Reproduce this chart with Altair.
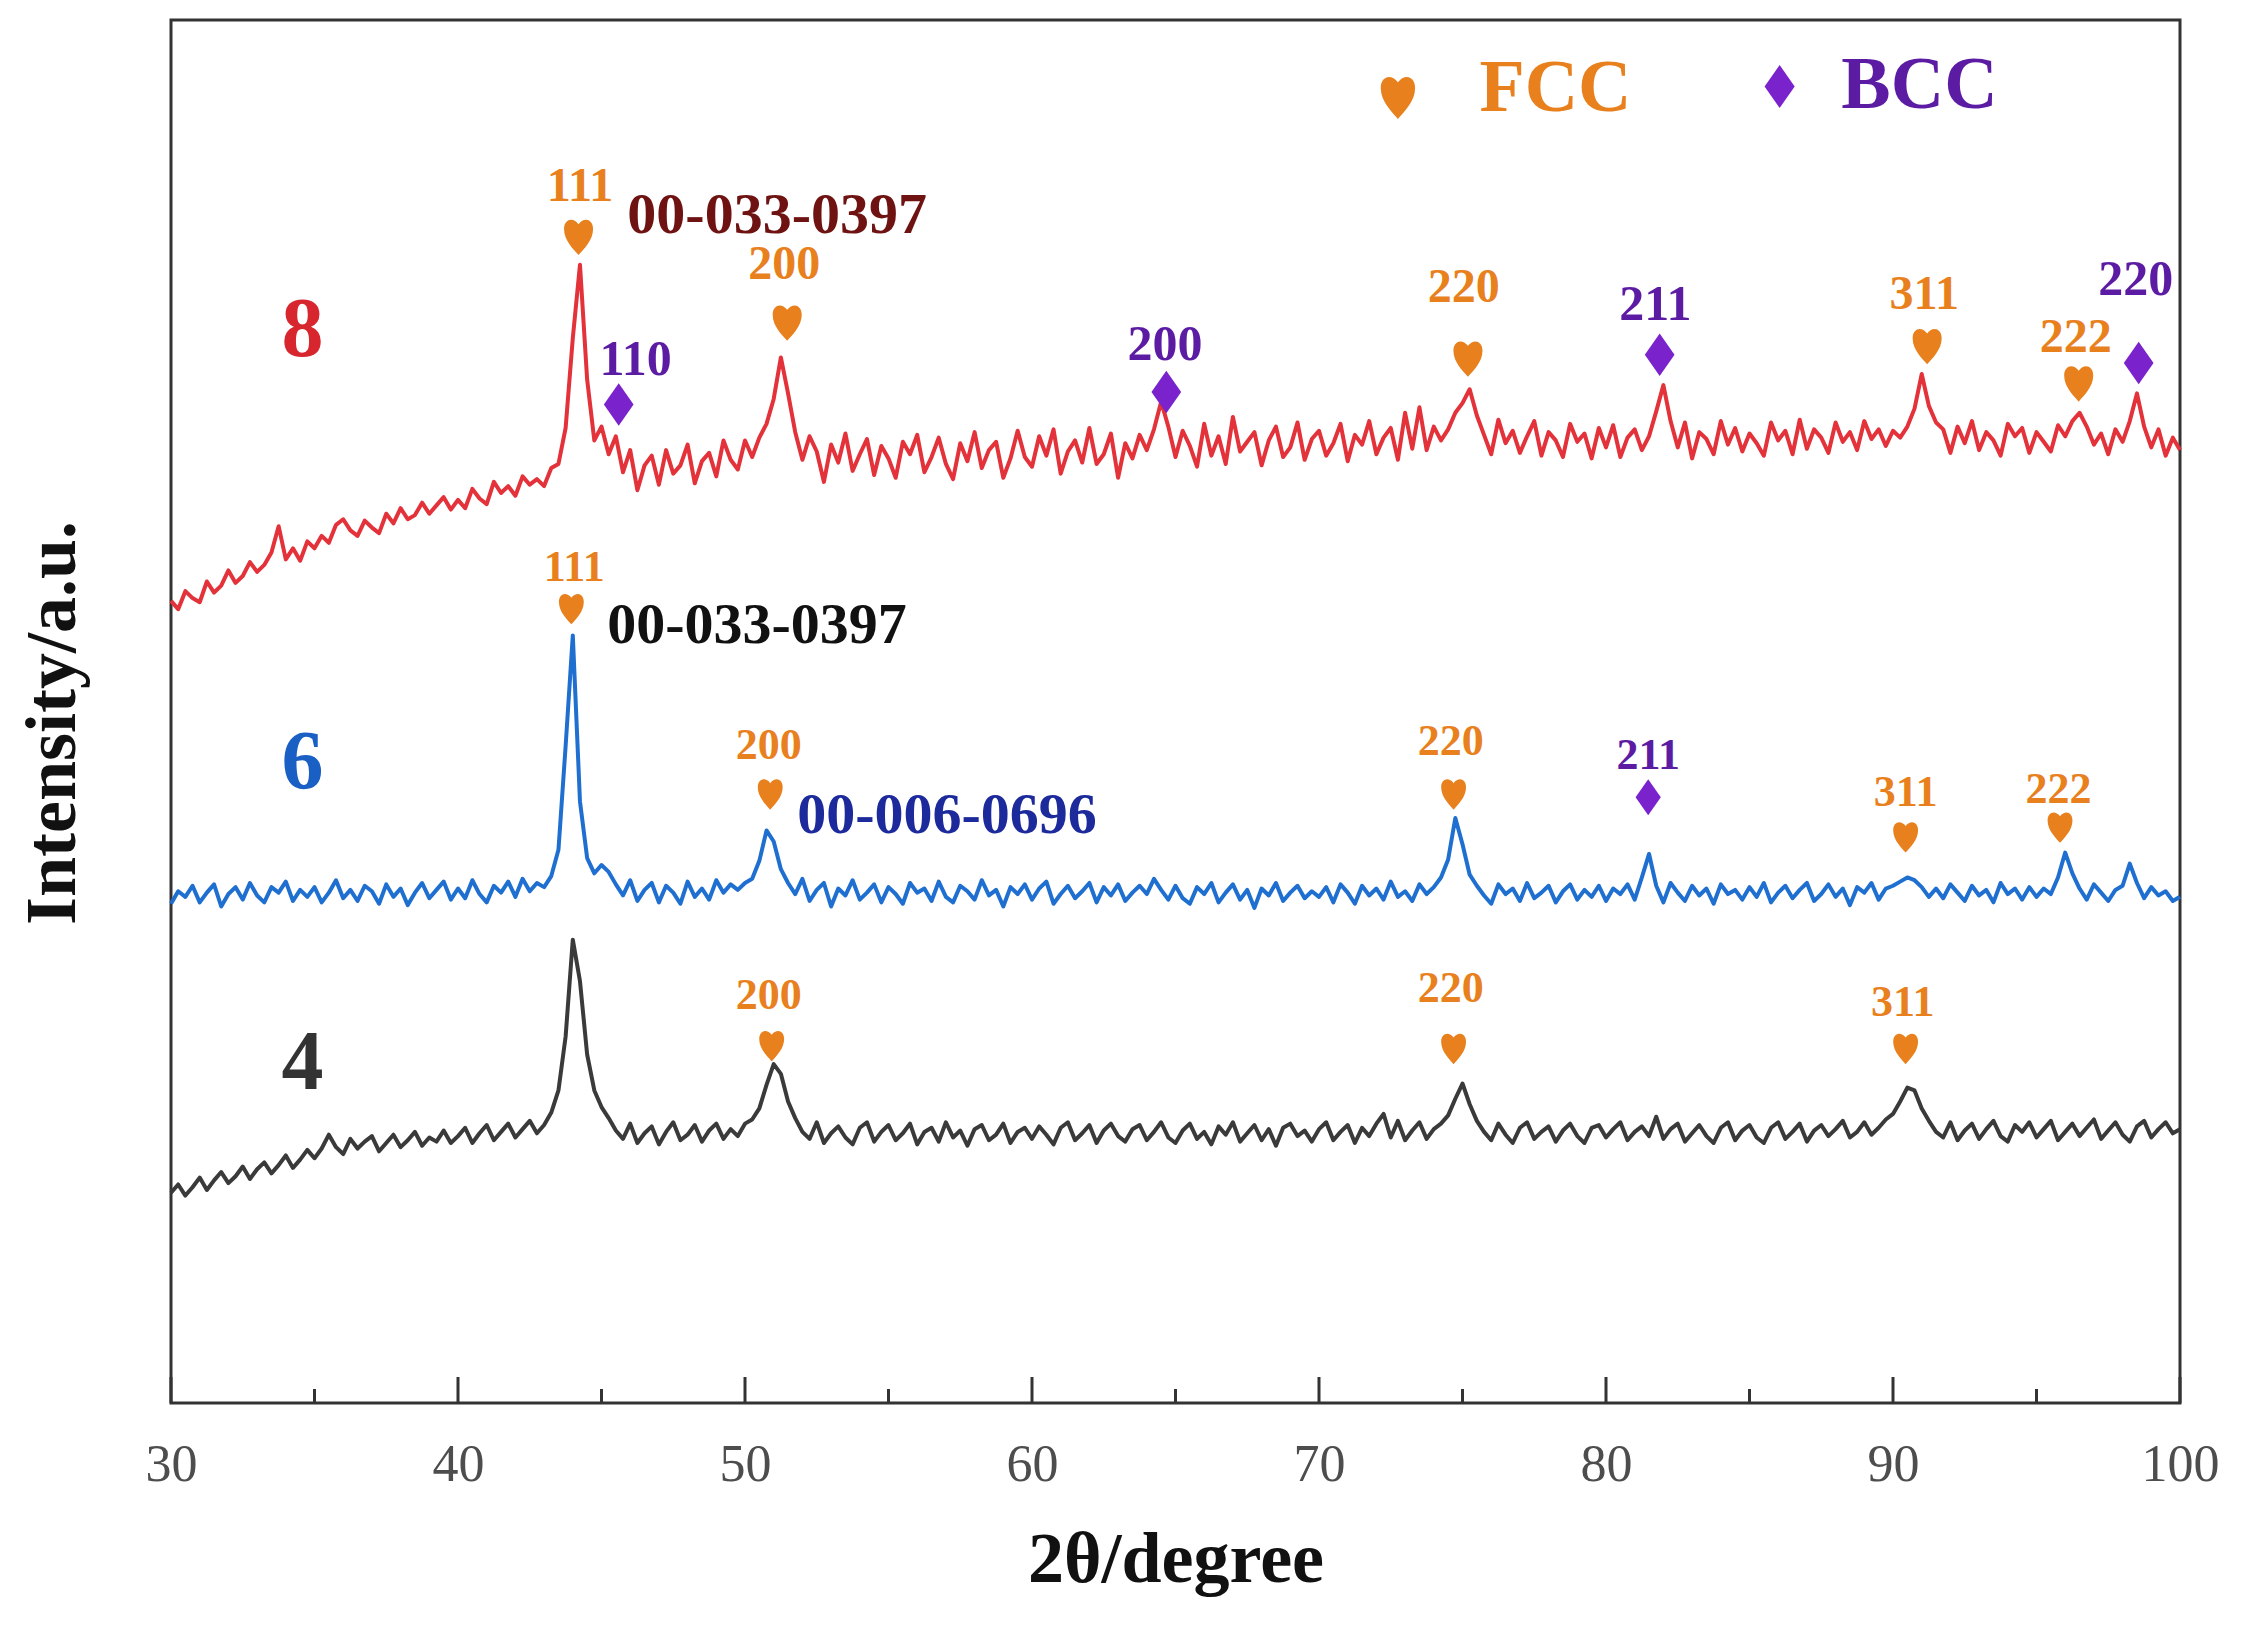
import pandas as pd
import altair as alt

# XRD scans, 2theta from 30 to 100 deg in 0.25 deg steps (intensity in % of plot height)
START, STEP = 30.0, 0.25

SCAN_8 = [
    58.0, 57.4, 58.7, 58.2, 57.9, 59.4, 58.6, 59.1, 60.2, 59.3, 59.8, 60.8, 60.1, 60.6, 61.5, 63.4, 61.0, 61.8, 60.9, 62.3,
    61.8, 62.7, 62.2, 63.5, 63.9, 63.1, 62.7, 63.8, 63.3, 62.9, 64.3, 63.6, 64.7, 63.9, 64.2, 65.1, 64.3, 64.9, 65.5, 64.6,
    65.3, 64.7, 66.1, 65.4, 65.0, 66.6, 65.8, 66.3, 65.6, 67.0, 66.4, 66.8, 66.3, 67.6, 67.9, 70.5, 77.0, 82.3, 74.0, 69.6,
    70.6, 68.6, 69.9, 67.3, 68.9, 66.0, 67.8, 68.5, 66.4, 68.9, 67.2, 67.8, 69.3, 66.5, 68.1, 68.7, 67.0, 69.6, 68.2, 67.5,
    69.6, 68.4, 69.8, 70.8, 72.6, 75.6, 73.0, 70.2, 68.2, 69.9, 68.8, 66.6, 69.3, 68.0, 70.1, 67.4, 68.6, 69.7, 67.1, 69.2,
    68.3, 66.9, 69.5, 68.6, 70.0, 67.3, 68.4, 69.8, 67.9, 66.8, 69.4, 68.1, 70.2, 67.6, 68.9, 69.5, 66.9, 68.3, 70.3, 68.4,
    67.7, 69.9, 68.5, 70.4, 67.2, 68.8, 69.6, 68.0, 70.5, 67.9, 68.6, 70.1, 66.9, 69.4, 68.3, 70.0, 68.9, 70.4, 72.4, 70.6,
    68.4, 70.3, 69.2, 67.7, 70.8, 68.5, 69.9, 67.9, 71.3, 68.8, 69.5, 70.2, 67.8, 69.6, 70.6, 68.4, 69.1, 70.9, 68.2, 69.7,
    70.3, 68.5, 69.4, 70.8, 68.1, 70.0, 69.3, 71.0, 68.6, 69.8, 70.5, 68.2, 71.6, 69.0, 72.0, 68.9, 70.6, 69.6, 70.4, 71.6,
    72.3, 73.3, 71.4, 70.0, 68.6, 71.1, 69.4, 70.3, 68.7, 69.9, 71.0, 68.5, 70.2, 69.6, 68.4, 70.8, 69.5, 70.1, 68.3, 70.5,
    69.1, 70.7, 68.4, 69.8, 70.4, 68.9, 69.9, 71.7, 73.6, 71.0, 69.1, 70.9, 68.3, 70.2, 69.7, 68.6, 71.0, 69.3, 70.5, 68.8,
    70.1, 69.4, 68.5, 70.9, 69.6, 70.3, 68.6, 71.1, 69.0, 70.4, 69.8, 68.7, 70.9, 69.5, 70.2, 68.9, 71.0, 69.7, 70.4, 69.2,
    70.3, 69.8, 70.6, 71.9, 74.4, 72.1, 70.9, 70.4, 68.7, 70.6, 69.4, 71.0, 68.9, 70.2, 69.6, 68.5, 70.8, 69.9, 70.5, 68.7,
    70.2, 69.5, 68.8, 70.7, 69.9, 71.0, 71.6, 70.6, 69.3, 70.1, 68.6, 70.4, 69.5, 71.0, 73.0, 70.6, 69.1, 70.4, 68.5, 69.8,
    68.9,
]

SCAN_6 = [
    36.1, 37.0, 36.6, 37.4, 36.2, 36.9, 37.5, 35.9, 36.8, 37.3, 36.4, 37.6, 36.7, 36.2, 37.3, 36.9, 37.7, 36.3, 37.1, 36.6,
    37.3, 36.2, 36.9, 37.8, 36.5, 37.1, 36.3, 37.4, 37.0, 36.1, 37.5, 36.6, 37.2, 36.0, 36.9, 37.6, 36.5, 37.1, 37.7, 36.4,
    37.2, 36.5, 37.8, 36.8, 36.2, 37.4, 36.9, 37.7, 36.6, 37.9, 37.0, 37.6, 37.3, 38.1, 40.0, 47.5, 55.5, 43.5, 39.4, 38.3,
    38.9, 38.4, 37.5, 36.7, 37.8, 36.3, 37.1, 37.6, 36.2, 37.4, 36.9, 36.1, 37.7, 36.6, 37.2, 36.4, 37.8, 36.9, 37.5, 37.1,
    37.6, 37.9, 39.2, 41.4, 40.6, 38.6, 37.6, 36.8, 37.9, 36.3, 37.1, 37.6, 35.9, 37.2, 36.7, 37.8, 36.4, 36.9, 37.5, 36.2,
    37.3, 36.8, 36.1, 37.6, 36.9, 37.2, 36.3, 37.7, 36.6, 36.2, 37.4, 37.0, 36.4, 37.8, 36.7, 37.1, 35.9, 37.3, 36.8, 37.5,
    36.4, 37.2, 37.7, 36.1, 36.8, 37.4, 36.5, 37.0, 37.6, 36.2, 37.3, 36.7, 37.5, 36.3, 36.9, 37.4, 36.8, 37.9, 37.1, 36.4,
    37.4, 36.5, 36.1, 37.3, 36.8, 37.6, 36.2, 36.9, 37.5, 36.4, 37.1, 35.8, 37.2, 36.7, 37.6, 36.3, 36.9, 37.4, 36.5, 37.0,
    36.6, 37.3, 36.2, 37.5, 36.9, 36.1, 37.4, 36.7, 37.2, 36.4, 37.7, 36.6, 37.0, 36.3, 37.5, 36.8, 37.3, 38.0, 39.3, 42.3,
    40.4, 38.2, 37.4, 36.7, 36.1, 37.5, 36.8, 37.2, 36.3, 37.6, 36.5, 36.9, 37.4, 36.2, 37.0, 37.5, 36.4, 37.1, 36.6, 37.4,
    36.3, 37.2, 36.8, 37.5, 36.4, 38.0, 39.7, 37.4, 36.2, 37.6, 36.9, 36.3, 37.4, 36.7, 37.2, 36.1, 37.5, 36.8, 37.1, 36.4,
    37.3, 36.6, 37.6, 36.2, 36.9, 37.4, 36.5, 37.1, 37.6, 36.3, 36.8, 37.5, 36.6, 37.2, 36.0, 37.3, 36.9, 37.6, 36.4, 37.2,
    37.4, 37.7, 38.0, 37.8, 37.3, 36.6, 37.2, 36.5, 37.5, 36.9, 36.3, 37.4, 36.7, 37.1, 36.2, 37.6, 36.8, 37.2, 36.4, 37.3,
    36.6, 37.2, 36.8, 38.0, 39.8, 38.3, 37.2, 36.4, 37.5, 36.9, 36.3, 37.1, 37.4, 39.0, 37.6, 36.5, 37.3, 36.7, 37.0, 36.3,
    36.6,
]

SCAN_4 = [
    15.2, 15.8, 15.0, 15.6, 16.3, 15.4, 16.1, 16.7, 15.9, 16.4, 17.1, 16.2, 16.9, 17.4, 16.6, 17.2, 17.9, 17.0, 17.6, 18.3,
    17.7, 18.4, 19.4, 18.5, 18.0, 19.1, 18.4, 18.9, 19.3, 18.2, 18.8, 19.4, 18.5, 19.0, 19.6, 18.6, 19.2, 18.9, 19.7, 18.8,
    19.3, 19.9, 18.8, 19.5, 20.1, 19.0, 19.6, 20.2, 19.2, 19.8, 20.4, 19.5, 20.1, 21.0, 22.6, 26.5, 33.5, 30.5, 25.2, 22.6,
    21.4, 20.6, 19.7, 19.1, 20.2, 18.8, 19.5, 20.0, 18.7, 19.6, 20.3, 19.0, 19.4, 20.1, 18.9, 19.7, 20.2, 19.1, 19.8, 19.3,
    20.2, 20.5, 21.3, 23.0, 24.5, 23.8, 21.8, 20.6, 19.6, 19.1, 20.3, 18.8, 19.5, 20.0, 19.2, 18.7, 19.9, 20.3, 18.9, 19.6,
    20.1, 19.0, 19.5, 20.2, 18.7, 19.6, 19.9, 18.9, 20.3, 19.2, 19.7, 18.6, 19.8, 20.1, 19.0, 19.4, 20.2, 18.8, 19.6, 19.9,
    19.1, 20.0, 19.4, 18.7, 19.9, 20.3, 19.0, 19.5, 20.1, 18.8, 19.7, 20.2, 19.3, 18.9, 19.8, 20.1, 19.0, 19.6, 20.3, 19.2,
    18.8, 19.7, 20.2, 19.1, 19.6, 18.7, 20.0, 19.4, 20.3, 18.9, 19.5, 20.1, 19.0, 19.8, 18.6, 19.9, 20.2, 19.3, 19.7, 18.9,
    19.8, 20.3, 19.0, 19.6, 20.1, 18.8, 19.9, 19.3, 20.2, 20.9, 19.2, 20.4, 19.0, 19.7, 20.3, 19.1, 19.8, 20.2, 20.8, 22.0,
    23.1, 21.6, 20.4, 19.6, 19.0, 20.2, 19.4, 18.8, 19.9, 20.3, 19.1, 19.6, 20.0, 18.9, 19.7, 20.2, 19.3, 18.8, 19.9, 20.1,
    19.2, 19.8, 20.3, 19.0, 19.6, 20.0, 19.3, 20.7, 19.1, 19.8, 20.2, 18.9, 19.5, 20.1, 19.3, 18.8, 19.9, 20.3, 19.0, 19.7,
    20.1, 19.2, 18.8, 19.9, 20.3, 19.1, 19.6, 20.2, 18.9, 19.7, 20.1, 19.3, 19.8, 20.4, 19.2, 19.6, 20.3, 19.4, 19.9, 20.5,
    20.9, 21.8, 22.8, 22.6, 21.3, 20.4, 19.6, 19.2, 20.3, 19.0, 19.7, 20.2, 19.1, 19.8, 20.4, 19.3, 18.9, 20.1, 19.6, 20.3,
    19.2, 19.8, 20.4, 19.0, 19.6, 20.2, 19.3, 19.9, 20.5, 19.1, 19.7, 20.3, 19.4, 18.9, 20.0, 20.4, 19.2, 19.8, 20.3, 19.5,
    19.8,
]

# peak markers (FCC hearts, BCC diamonds) and their hkl labels
FCC_8_X = [44.20, 51.47, 75.19, 91.19, 96.47]
FCC_8_Y = [84.4, 78.2, 75.6, 76.5, 73.8]
FCC_8_LABEL_X = [44.25, 51.37, 75.04, 91.09, 96.37]
FCC_8_LABEL_Y = [87.9, 82.3, 80.6, 80.1, 77.0]
FCC_8_LABELS = ['111', '200', '220', '311', '222']

BCC_8_X = [45.60, 64.68, 81.87, 98.56]
BCC_8_Y = [72.2, 73.1, 75.8, 75.2]
BCC_8_LABEL_X = [46.19, 64.63, 81.72, 98.46]
BCC_8_LABEL_Y = [75.4, 76.5, 79.4, 81.2]
BCC_8_LABELS = ['110', '200', '211', '220']

FCC_6_X = [43.95, 50.88, 74.69, 90.44, 95.82]
FCC_6_Y = [57.5, 44.1, 44.1, 41.0, 41.7]
FCC_6_LABEL_X = [44.05, 50.83, 74.59, 90.44, 95.77]
FCC_6_LABEL_Y = [60.4, 47.5, 47.8, 44.1, 44.3]
FCC_6_LABELS = ['111', '200', '220', '311', '222']

BCC_6_X = [81.47]
BCC_6_Y = [43.8]
BCC_6_LABEL_X = [81.47]
BCC_6_LABEL_Y = [46.8]
BCC_6_LABELS = ['211']

FCC_4_X = [50.93, 74.69, 90.44]
FCC_4_Y = [25.9, 25.7, 25.7]
FCC_4_LABEL_X = [50.83, 74.59, 90.34]
FCC_4_LABEL_Y = [29.4, 29.9, 28.9]
FCC_4_LABELS = ['200', '220', '311']

# PDF card numbers (left edges)
PDF_X = [45.90, 45.20, 51.82]
PDF_Y = [85.8, 56.2, 42.46]
PDF_TEXT = ['00-033-0397', '00-033-0397', '00-006-0696']

SAMPLES = ['8', '6', '4']
SAMPLE_X = [34.58, 34.58, 34.58]
SAMPLE_Y = [77.5, 46.2, 24.5]

LEGEND_MARK_X = [72.75, 86.05]
LEGEND_MARK_Y = [94.5, 95.2]
LEGEND_TEXT_X = [75.59, 88.20]
LEGEND_TEXT_Y = [95.0, 95.2]
LEGEND_TEXT = ['FCC', 'BCC']

MAJOR_TICKS = [30, 40, 50, 60, 70, 80, 90, 100]
MINOR_TICKS = [35, 45, 55, 65, 75, 85, 95]

SERIF = 'Liberation Serif'
ORANGE = '#e8801e'
PURPLE = '#7a22cc'
PURPLE_TEXT = '#5c1ba3'
W, H = 2009, 1383

# tall heart, tip pointing down
HEART = ('M 0 1 C -0.25 0.7 -0.75 0.25 -0.75 -0.35 C -0.75 -0.85 -0.3 -1.0 0 -0.6 '
         'C 0.3 -1.0 0.75 -0.85 0.75 -0.35 C 0.75 0.25 0.25 0.7 0 1 Z')
DIAMOND = 'M 0 -1 L 0.7 0 L 0 1 L -0.7 0 Z'

x_scale = alt.Scale(domain=[30, 100], nice=False, zero=False)
y_scale = alt.Scale(domain=[0, 100], nice=False, zero=False)

x_axis = alt.Axis(values=MAJOR_TICKS, format='d', ticks=False, tickSize=0, domain=False, grid=False,
                  labelFont=SERIF, labelFontSize=52, labelColor='#4d4d4d', labelPadding=36,
                  labelFlush=False, title='2θ/degree', titleFont=SERIF, titleFontSize=72,
                  titleFontWeight='bold', titleColor='#111111', titlePadding=34)
y_axis = alt.Axis(labels=False, ticks=False, domain=False, grid=False,
                  title='Intensity/a.u.', titleFont=SERIF, titleFontSize=72,
                  titleFontWeight='bold', titleColor='#111111', titlePadding=82, titleY=H / 2 + 11)

X = alt.X('x:Q', scale=x_scale, axis=x_axis)
Y = alt.Y('y:Q', scale=y_scale, axis=y_axis)


def scan(values, name):
    return pd.DataFrame({'x': [START + STEP * i for i in range(len(values))],
                         'y': values, 'sample': name})


lines = pd.concat([scan(SCAN_4, '4'), scan(SCAN_6, '6'), scan(SCAN_8, '8')])

line_chart = alt.Chart(lines).mark_line(strokeWidth=4, strokeJoin='round').encode(
    x=X, y=Y,
    color=alt.Color('sample:N',
                    scale=alt.Scale(domain=['4', '6', '8'],
                                    range=['#3a3a3a', '#1f6fd0', '#e3323a']),
                    legend=None),
)


def ticks(values, length):
    return alt.Chart(pd.DataFrame({'x': values})).mark_rule(color='#333333', strokeWidth=3).encode(
        x=X, y=alt.value(H), y2=alt.value(H - length))


def markers(xs, ys, shape, size, color):
    df = pd.DataFrame({'x': xs, 'y': ys})
    return alt.Chart(df).mark_point(shape=shape, size=size, filled=True, fill=color,
                                    stroke=None, opacity=1).encode(x=X, y=Y)


def texts(xs, ys, labels, size, color, weight='bold', align='center'):
    df = pd.DataFrame({'x': xs, 'y': ys, 'label': labels})
    return alt.Chart(df).mark_text(font=SERIF, fontSize=size, fontWeight=weight, color=color,
                                   align=align, baseline='middle').encode(x=X, y=Y, text='label:N')


layers = [
    ticks(MAJOR_TICKS, 26),
    ticks(MINOR_TICKS, 14),
    line_chart,
    markers(FCC_8_X, FCC_8_Y, HEART, 1500, ORANGE),
    texts(FCC_8_LABEL_X, FCC_8_LABEL_Y, FCC_8_LABELS, 48, ORANGE),
    markers(BCC_8_X, BCC_8_Y, DIAMOND, 1800, PURPLE),
    texts(BCC_8_LABEL_X, BCC_8_LABEL_Y, BCC_8_LABELS, 50, PURPLE_TEXT),
    markers(FCC_6_X, FCC_6_Y, HEART, 1100, ORANGE),
    texts(FCC_6_LABEL_X, FCC_6_LABEL_Y, FCC_6_LABELS, 44, ORANGE),
    markers(BCC_6_X, BCC_6_Y, DIAMOND, 1300, PURPLE),
    texts(BCC_6_LABEL_X, BCC_6_LABEL_Y, BCC_6_LABELS, 44, PURPLE_TEXT),
    markers(FCC_4_X, FCC_4_Y, HEART, 1100, ORANGE),
    texts(FCC_4_LABEL_X, FCC_4_LABEL_Y, FCC_4_LABELS, 44, ORANGE),
    texts(PDF_X[:1], PDF_Y[:1], PDF_TEXT[:1], 58, '#6e1212', align='left'),
    texts(PDF_X[1:2], PDF_Y[1:2], PDF_TEXT[1:2], 58, '#111111', align='left'),
    texts(PDF_X[2:], PDF_Y[2:], PDF_TEXT[2:], 58, '#1c2a9c', align='left'),
    texts(SAMPLE_X[:1], SAMPLE_Y[:1], SAMPLES[:1], 84, '#d7262e'),
    texts(SAMPLE_X[1:2], SAMPLE_Y[1:2], SAMPLES[1:2], 84, '#1a5fc4'),
    texts(SAMPLE_X[2:], SAMPLE_Y[2:], SAMPLES[2:], 84, '#333333'),
    markers(LEGEND_MARK_X[:1], LEGEND_MARK_Y[:1], HEART, 2100, ORANGE),
    markers(LEGEND_MARK_X[1:], LEGEND_MARK_Y[1:], DIAMOND, 1850, PURPLE),
    texts(LEGEND_TEXT_X[:1], LEGEND_TEXT_Y[:1], LEGEND_TEXT[:1], 74, ORANGE, align='left'),
    texts(LEGEND_TEXT_X[1:], LEGEND_TEXT_Y[1:], LEGEND_TEXT[1:], 74, PURPLE_TEXT, align='left'),
]

chart = alt.layer(*layers).properties(
    width=W,
    height=H,
    autosize=alt.AutoSizeParams(type='none'),
    padding={'left': 163, 'top': 12, 'right': 45, 'bottom': 205},
).configure_view(stroke='#333333', strokeWidth=3)

chart.save('out.html', embed_options={'renderer': 'svg', 'actions': False})
